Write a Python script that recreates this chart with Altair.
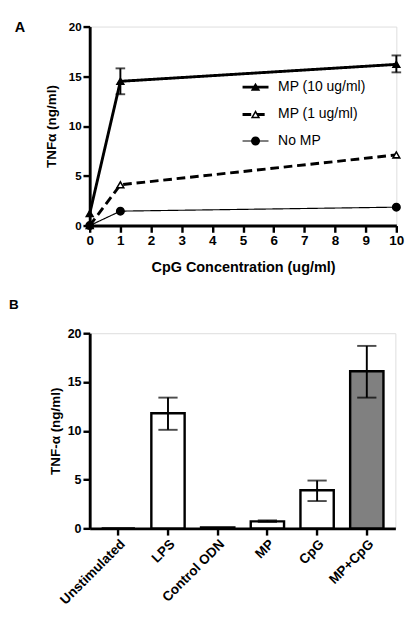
import altair as alt
import pandas as pd

# ---------------- data ----------------
# Panel A
conc = [0, 1, 10]
series_names = ["MP (10 ug/ml)", "MP (1 ug/ml)", "No MP"]
mp10 = [1.2, 14.5, 16.2]
mp1 = [0.0, 4.1, 7.1]
nomp = [0.0, 1.45, 1.85]
mp10_err_conc = [1, 10]
mp10_err_lo = [13.2, 15.4]
mp10_err_hi = [15.8, 17.1]

# Panel B
cats = ["Unstimulated", "LPS", "Control ODN", "MP", "CpG", "MP+CpG"]
bar_vals = [0.0, 11.8, 0.1, 0.72, 3.9, 16.1]
err_cats = ["LPS", "MP", "CpG", "MP+CpG"]
err_lo = [10.1, 0.66, 2.8, 13.4]
err_hi = [13.4, 0.82, 4.9, 18.7]

panel_labels = ["A", "B"]
y_ticks = [0, 5, 10, 15, 20]
x_ticks_a = list(range(0, 11))

# ---------------- styles ----------------
FONT = "Liberation Sans"
bar_fill_range = ["white", "white", "white", "white", "white", "#808080"]
dash_range = [[1, 0], [9, 5], [1, 0]]
width_range = [3, 3, 1.2]
shape_range = ["triangle-up", "triangle-up", "circle"]
fill_range = ["black", "white", "black"]
marker_size = [50, 50, 60]

base_axis = dict(
    labelFont=FONT, labelFontWeight="bold", labelColor="black",
    titleFont=FONT, titleFontWeight="bold", titleColor="black",
    domainColor="black", domainWidth=3, tickColor="black", tickWidth=2.5,
    tickSize=7, labelPadding=2, grid=False, labelFlush=False, labelOverlap=False,
)

# ---------------- panel A ----------------
series_vals = [mp10, mp1, nomp]
err_df = pd.DataFrame({"conc": mp10_err_conc, "lo": mp10_err_lo, "hi": mp10_err_hi})

scale_xA = alt.Scale(domain=[0, 10], nice=False)
scale_yA = alt.Scale(domain=[0, 20], nice=False)
axis_xA = alt.Axis(values=x_ticks_a, title="CpG Concentration (ug/ml)",
                   labelFontSize=14, titleFontSize=15, titlePadding=13, **base_axis)
axis_yA = alt.Axis(values=y_ticks, title="TNFα (ng/ml)", labelFontSize=12,
                   titleFontSize=14, titlePadding=10, **base_axis)


def xa(field):
    return alt.X(field, scale=scale_xA, axis=axis_xA)


def ya(field):
    return alt.Y(field, scale=scale_yA, axis=axis_yA)


a_layers = []
for i, name in enumerate(series_names):
    sdf = pd.DataFrame({"conc": conc, "tnf": series_vals[i], "series": name})
    a_layers.append(alt.Chart(sdf).mark_line(
        color="black", strokeWidth=width_range[i], strokeDash=dash_range[i]
    ).encode(x=xa("conc:Q"), y=ya("tnf:Q")))

a_layers.append(alt.Chart(err_df).mark_rule(color="black", strokeWidth=2).encode(
    x=xa("conc:Q"), y=ya("lo:Q"), y2="hi:Q"))
for fld in ["lo", "hi"]:
    a_layers.append(alt.Chart(err_df).mark_tick(
        color="black", orient="horizontal", size=10, thickness=2
    ).encode(x=xa("conc:Q"), y=ya(fld + ":Q")))

for i, name in enumerate(series_names):
    sdf = pd.DataFrame({"conc": conc, "tnf": series_vals[i], "series": name})
    a_layers.append(alt.Chart(sdf).mark_point(
        shape=shape_range[i], fill=fill_range[i], stroke="black", strokeWidth=1.6,
        size=marker_size[i], opacity=1, fillOpacity=1
    ).encode(x=xa("conc:Q"), y=ya("tnf:Q")))

# manual legend (pixel placement within the plot area)
leg_rows_y = [63, 91.5, 119]
for i, name in enumerate(series_names):
    base = alt.Chart(pd.DataFrame({"label": [name]}))
    a_layers.append(base.mark_rule(
        color="black", strokeWidth=width_range[i], strokeDash=dash_range[i]
    ).encode(x=alt.value(159), x2=alt.value(186), y=alt.value(leg_rows_y[i])))
    a_layers.append(base.mark_point(
        shape=shape_range[i], fill=fill_range[i], stroke="black", strokeWidth=1.6,
        size=marker_size[i], opacity=1, fillOpacity=1
    ).encode(x=alt.value(172.5), y=alt.value(leg_rows_y[i])))
    a_layers.append(base.mark_text(
        align="left", baseline="middle", font=FONT, fontSize=14.5, color="black"
    ).encode(x=alt.value(196), y=alt.value(leg_rows_y[i]), text="label:N"))

a_layers.append(alt.Chart(pd.DataFrame({"p": [panel_labels[0]]})).mark_text(
    align="left", baseline="top", font=FONT, fontSize=15, fontWeight="bold",
    color="black").encode(x=alt.value(-78), y=alt.value(-6), text="p:N"))

top = alt.layer(*a_layers).properties(width=319, height=207)

# ---------------- panel B ----------------
bar_df = pd.DataFrame({"cat": cats, "val": bar_vals, "fill": bar_fill_range})
berr_df = pd.DataFrame({"cat": err_cats, "lo": err_lo, "hi": err_hi})

scale_xB = alt.Scale(domain=cats, paddingInner=0.33, paddingOuter=0.24)
scale_yB = alt.Scale(domain=[0, 20], nice=False)
axis_xB = alt.Axis(title=None, labelAngle=-45, labelFontSize=14, **base_axis)
axis_yB = alt.Axis(values=y_ticks, title="TNF-α (ng/ml)", labelFontSize=13,
                   titleFontSize=14, titlePadding=5, **base_axis)


def xb(field):
    return alt.X(field, scale=scale_xB, axis=axis_xB, sort=cats)


def yb(field):
    return alt.Y(field, scale=scale_yB, axis=axis_yB)


bars = alt.Chart(bar_df).mark_bar(stroke="black", strokeWidth=2.5).encode(
    x=xb("cat:N"), y=yb("val:Q"), fill=alt.Fill("fill:N", scale=None),
)
b_rule = alt.Chart(berr_df).mark_rule(color="black", strokeWidth=2).encode(
    x=xb("cat:N"), y=yb("lo:Q"), y2="hi:Q")
b_lo = alt.Chart(berr_df).mark_tick(color="black", size=20, thickness=2).encode(
    x=xb("cat:N"), y=yb("lo:Q"))
b_hi = alt.Chart(berr_df).mark_tick(color="black", size=20, thickness=2).encode(
    x=xb("cat:N"), y=yb("hi:Q"))

label_b = alt.Chart(pd.DataFrame({"p": [panel_labels[1]]})).mark_text(
    align="left", baseline="top", font=FONT, fontSize=14, fontWeight="bold",
    color="black").encode(x=alt.value(-84), y=alt.value(-36), text="p:N")

bottom = alt.layer(bars, b_rule, b_lo, b_hi, label_b).properties(width=318, height=203)

chart = alt.concat(top, bottom, columns=1, spacing=23, align="none").properties(
    padding={"left": 0, "top": 0, "right": 0, "bottom": 0}
).configure_view(stroke=None).configure(font=FONT)

chart.save("out.html", embed_options={"renderer": "svg", "actions": False})
